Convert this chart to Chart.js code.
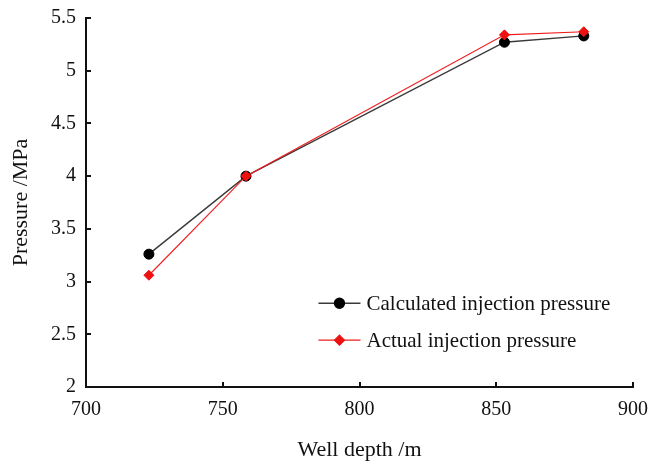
<!DOCTYPE html>
<html>
<head>
<meta charset="utf-8">
<script src="https://cdn.jsdelivr.net/npm/chart.js@4/dist/chart.umd.min.js"></script>
<style>
  html, body { margin: 0; padding: 0; background: #fff; }
  #wrap { width: 651px; height: 464px; }
</style>
</head>
<body>
<div id="wrap"><canvas id="c" width="651" height="464"></canvas></div>
<script>
// Well depth (m) of each measuring point
const depths = [723, 758.5, 853, 882];
// Injection pressure (MPa)
const calculatedPressure = [3.26, 4.0, 5.27, 5.33];
const actualPressure = [3.06, 4.0, 5.34, 5.37];
// Axis ticks and their labels
const xTickValues = [700, 750, 800, 850, 900];
const xTickLabels = ['700', '750', '800', '850', '900'];
const yTickValues = [2, 2.5, 3, 3.5, 4, 4.5, 5, 5.5];
const yTickLabels = ['2', '2.5', '3', '3.5', '4', '4.5', '5', '5.5'];

const seriesNames = ['Calculated injection pressure', 'Actual injection pressure'];

const SERIF = 'Liberation Serif';
const INK = '#111';

Chart.defaults.font.family = SERIF;
Chart.defaults.color = INK;

function toPoints(xs, ys) {
  return xs.map((x, i) => ({ x: x, y: ys[i] }));
}

// Short tick marks pointing into the plot area
const innerTicks = {
  id: 'innerTicks',
  afterDraw(chart) {
    const { ctx, chartArea, scales } = chart;
    const len = 5;
    ctx.save();
    ctx.strokeStyle = INK;
    ctx.lineWidth = 2;
    ctx.beginPath();
    xTickValues.forEach(v => {
      const px = Math.round(scales.x.getPixelForValue(v));
      ctx.moveTo(px, chartArea.bottom);
      ctx.lineTo(px, chartArea.bottom - len);
    });
    yTickValues.forEach(v => {
      const py = Math.round(scales.y.getPixelForValue(v));
      ctx.moveTo(chartArea.left, py);
      ctx.lineTo(chartArea.left + len, py);
    });
    ctx.stroke();
    ctx.restore();
  }
};

// Legend placed inside the lower right of the plot
const insideLegend = {
  id: 'insideLegend',
  afterDraw(chart) {
    const { ctx, chartArea } = chart;
    const w = chartArea.right - chartArea.left;
    const h = chartArea.bottom - chartArea.top;
    const x0 = chartArea.left + w * 0.425;
    const lineLen = 42;
    const rowY = [chartArea.top + h * 0.773, chartArea.top + h * 0.873];
    ctx.save();
    [0, 1].forEach((di, row) => {
      const ds = chart.data.datasets[di];
      const y = rowY[row];
      ctx.strokeStyle = ds.borderColor;
      ctx.lineWidth = ds.borderWidth;
      ctx.beginPath();
      ctx.moveTo(x0, y);
      ctx.lineTo(x0 + lineLen, y);
      ctx.stroke();
      ctx.fillStyle = ds.pointBackgroundColor;
      ctx.strokeStyle = ds.pointBorderColor;
      Chart.helpers.drawPoint(ctx, {
        pointStyle: ds.pointStyle,
        radius: ds.pointRadius,
        rotation: 0,
        borderWidth: 1
      }, x0 + lineLen / 2, y);
      ctx.fillStyle = INK;
      ctx.font = '21px "' + SERIF + '"';
      ctx.textBaseline = 'middle';
      ctx.textAlign = 'left';
      ctx.fillText(seriesNames[di], x0 + lineLen + 6, y + 1);
    });
    ctx.restore();
  }
};

new Chart(document.getElementById('c'), {
  type: 'scatter',
  data: {
    datasets: [
      {
        label: seriesNames[0],
        data: toPoints(depths, calculatedPressure),
        showLine: true,
        borderColor: '#3a3a3a',
        borderWidth: 1.4,
        pointStyle: 'circle',
        pointRadius: 5,
        pointBackgroundColor: '#000',
        pointBorderColor: '#000',
        pointBorderWidth: 1,
        order: 1
      },
      {
        label: seriesNames[1],
        data: toPoints(depths, actualPressure),
        showLine: true,
        borderColor: '#f01c1c',
        borderWidth: 1.1,
        pointStyle: 'rectRot',
        pointRadius: 5,
        pointBackgroundColor: '#ee1111',
        pointBorderColor: '#ee1111',
        pointBorderWidth: 1,
        order: 0
      }
    ]
  },
  options: {
    responsive: false,
    animation: false,
    layout: { padding: { left: 0, right: 18, top: 18, bottom: 0 } },
    plugins: {
      legend: { display: false },
      tooltip: { enabled: false }
    },
    scales: {
      x: {
        type: 'linear',
        min: 700,
        max: 900,
        afterBuildTicks(scale) { scale.ticks = xTickValues.map(v => ({ value: v })); },
        afterFit(scale) { scale.height = 77; scale.paddingLeft = 0; scale.paddingRight = 0; },
        grid: { display: false, drawTicks: false },
        border: { display: true, color: INK, width: 2 },
        ticks: {
          color: INK,
          padding: 11,
          maxRotation: 0,
          font: { family: SERIF, size: 20 },
          callback: (v) => xTickLabels[xTickValues.indexOf(v)]
        },
        title: {
          display: true,
          text: 'Well depth /m',
          color: INK,
          font: { family: SERIF, size: 22 },
          padding: { top: 0, bottom: 1 }
        }
      },
      y: {
        type: 'linear',
        min: 2,
        max: 5.5,
        afterBuildTicks(scale) { scale.ticks = yTickValues.map(v => ({ value: v })); },
        afterFit(scale) { scale.width = 86; scale.paddingTop = 0; scale.paddingBottom = 0; },
        grid: { display: false, drawTicks: false },
        border: { display: true, color: INK, width: 2 },
        ticks: {
          color: INK,
          padding: 10,
          font: { family: SERIF, size: 20 },
          callback: (v) => yTickLabels[yTickValues.indexOf(v)]
        },
        title: {
          display: true,
          text: 'Pressure /MPa',
          color: INK,
          font: { family: SERIF, size: 22 },
          padding: { top: 8, bottom: 0 }
        }
      }
    }
  },
  plugins: [innerTicks, insideLegend]
});
</script>
</body>
</html>
